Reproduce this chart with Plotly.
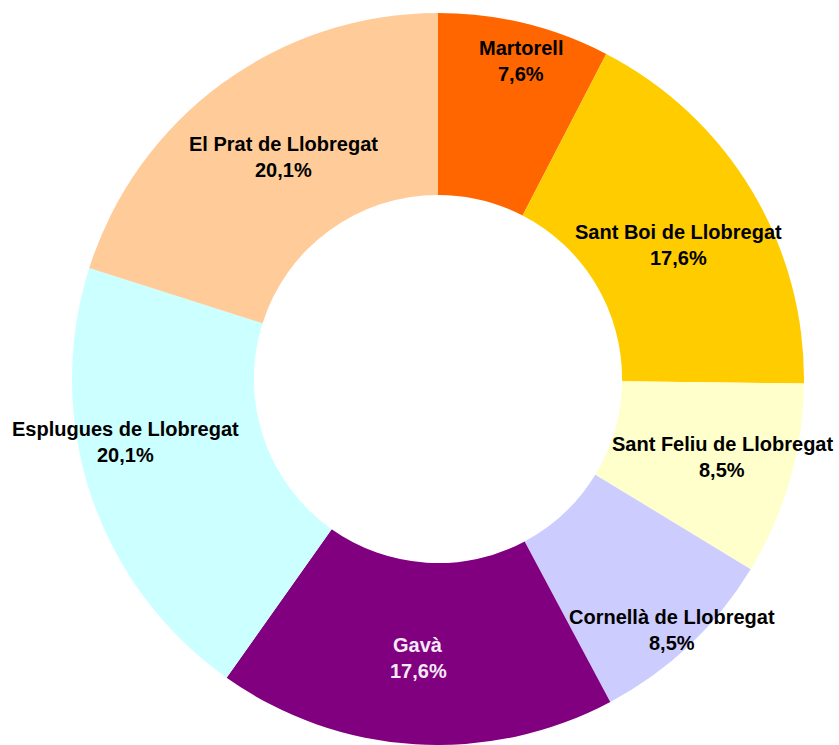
import plotly.graph_objects as go

# Data
municipis = ["Martorell", "Sant Boi de Llobregat", "Sant Feliu de Llobregat",
             "Cornellà de Llobregat", "Gavà", "Esplugues de Llobregat",
             "El Prat de Llobregat"]
percentatges = [7.6, 17.6, 8.5, 8.5, 17.6, 20.1, 20.1]

# Styles
colors = ["#FF6600", "#FFCC00", "#FFFFCC", "#CCCCFF", "#800080", "#CCFFFF", "#FFCC99"]
text_colors = ["#000000", "#000000", "#000000", "#000000", "#F5EAF5", "#000000", "#000000"]
# label centre positions in pixels (x, y from top-left)
label_px = [(521, 61), (678, 245), (722, 457), (672, 630), (418, 658), (125, 442), (283, 157)]
LINE_GAP = 26

W, H = 839, 745
cx, cy, R = 438, 379, 366

fig = go.Figure(go.Pie(
    labels=municipis,
    values=percentatges,
    sort=False,
    direction="clockwise",
    rotation=0,
    hole=0.503,
    marker=dict(colors=colors, line=dict(width=0)),
    textinfo="none",
    hoverinfo="label+percent",
    showlegend=False,
    domain=dict(x=[(cx - R) / W, (cx + R) / W], y=[0, 2 * R / H]),
))

font_family = "Liberation Sans, Arial, sans-serif"
for name, val, (px, py), tc in zip(municipis, percentatges, label_px, text_colors):
    for txt, dy in ((name, -LINE_GAP / 2), (f"{val:.1f}%".replace(".", ","), LINE_GAP / 2)):
        fig.add_annotation(
            x=px / W, y=1 - (py + dy) / H, xref="paper", yref="paper",
            text=f"<b>{txt}</b>",
            showarrow=False, xanchor="center", yanchor="middle",
            font=dict(family=font_family, size=20, color=tc),
            align="center",
        )

fig.update_layout(
    width=W, height=H,
    margin=dict(l=0, r=0, t=0, b=0),
    paper_bgcolor="white", plot_bgcolor="white",
)

fig.write_html(
    "out.html",
    config={"displayModeBar": False},
    post_script="document.body.style.margin='0';document.body.style.overflow='hidden';",
)
